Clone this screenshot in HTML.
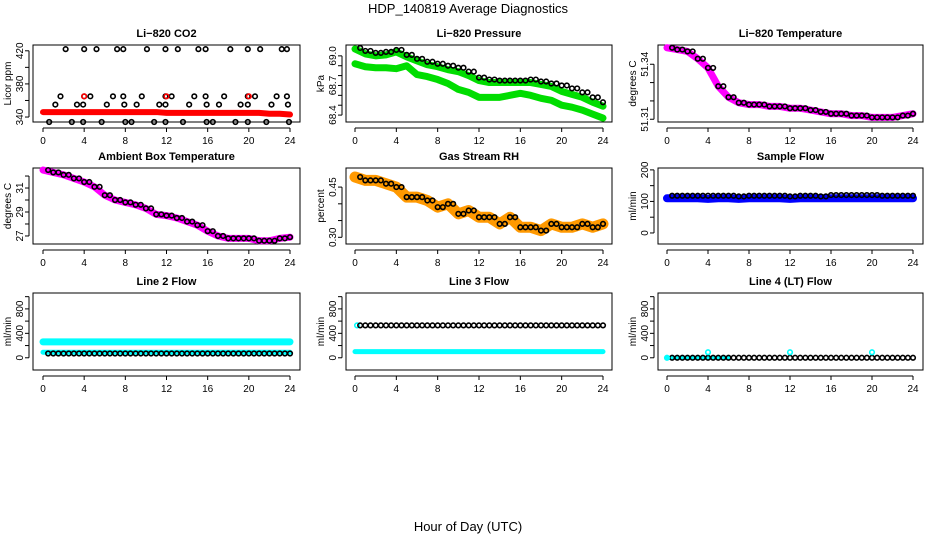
<!DOCTYPE html>
<html><head><meta charset="utf-8">
<style>
html,body{margin:0;padding:0;background:#fff;}
svg{display:block;font-family:"Liberation Sans",sans-serif;}
.t{font-weight:bold;font-size:11px;text-anchor:middle;}
.tk{font-size:10px;text-anchor:middle;}
</style></head>
<body>
<svg id="c" width="936" height="540" viewBox="0 0 936 540">
<text x="468" y="13" font-size="13" text-anchor="middle">HDP_140819  Average Diagnostics</text>
<text x="468" y="531" font-size="13" text-anchor="middle">Hour of Day (UTC)</text>
</svg>
<script>
const hours=[0,1,2,3,4,5,6,7,8,9,10,11,12,13,14,15,16,17,18,19,20,21,22,23,24];
const xTicks=[0,4,8,12,16,20,24];
// CO2
const co2Red=[346,346,346,346,346,346,346,346,346,346,346,346,345,345,345,345,345,345,345,345,345,345,344,344,343];
const co2HiX=[2.2,4,5.2,7.2,7.8,10.1,11.9,13.1,15.1,15.8,18.2,19.9,21.1,23.2,23.7];
const co2MidX=[1.7,4,4.6,6.8,7.8,9.6,11.9,12.5,14.7,15.8,17.6,19.9,20.6,22.7,23.7];
const co2LowX=[1.2,3.3,3.9,6.2,7.9,9.1,11.3,11.9,14.2,15.9,17.1,19.2,19.9,22.2,23.8];
const co2MinX=[0.6,2.8,3.9,5.7,8,8.6,10.8,11.9,13.6,15.9,16.5,18.7,19.9,21.7,23.9];
const co2HiV=422, co2MidV=365, co2LowV=355, co2MinV=334;
// Pressure
const presBlack=[69.08,69.05,69.03,69.04,69.06,69.01,68.97,68.94,68.92,68.9,68.88,68.84,68.78,68.76,68.75,68.75,68.75,68.76,68.74,68.72,68.70,68.67,68.63,68.58,68.53];
const presGreenHi=[69.07,69.02,69.0,69.01,69.04,68.99,68.95,68.91,68.89,68.86,68.84,68.8,68.75,68.73,68.73,68.73,68.73,68.73,68.71,68.69,68.64,68.61,68.58,68.53,68.49];
const presGreenLo=[68.92,68.89,68.88,68.88,68.87,68.9,68.81,68.79,68.76,68.72,68.66,68.63,68.58,68.58,68.58,68.6,68.62,68.6,68.57,68.55,68.5,68.48,68.45,68.41,68.37];
// Li-820 temperature
const tempLi=[51.349,51.348,51.347,51.343,51.338,51.328,51.322,51.319,51.318,51.318,51.317,51.317,51.316,51.316,51.315,51.314,51.313,51.313,51.312,51.312,51.311,51.311,51.311,51.312,51.313];
// Ambient
const ambient=[32.5,32.3,32.1,31.8,31.5,31.1,30.4,30.0,29.8,29.6,29.3,28.8,28.7,28.5,28.2,27.9,27.4,27.0,26.8,26.8,26.8,26.6,26.6,26.8,26.9];
// RH
const rh=[0.48,0.47,0.47,0.46,0.45,0.42,0.42,0.41,0.39,0.40,0.37,0.38,0.36,0.36,0.34,0.36,0.33,0.33,0.32,0.34,0.33,0.33,0.34,0.33,0.34];
// flows
const sampleBlue=[110,110,110,110,108,110,110,108,110,110,110,110,108,110,110,110,110,110,110,110,110,110,110,110,110];
const sampleBlack=[118,118,118,118,118,118,118,116,118,118,118,118,116,118,118,116,120,120,120,120,120,118,118,118,118];
const line2CyanHi=[260,260,260,260,260,260,260,260,260,260,260,260,260,260,260,260,260,260,260,260,260,260,260,260,260];
const line2CyanLo=[90,90,90,90,90,90,90,90,90,90,90,90,90,90,90,90,90,90,90,90,90,90,90,90,90];
const line2Black=[70,70,70,70,70,70,70,70,70,70,70,70,70,70,70,70,70,70,70,70,70,70,70,70,70];
const line3Black=[530,530,530,530,530,530,530,530,530,530,530,530,530,530,530,530,530,530,530,530,530,530,530,530,530];
const line3Cyan=[100,100,100,100,100,100,100,100,100,100,100,100,100,100,100,100,100,100,100,100,100,100,100,100,100];
const line4Black=[0,0,0,0,0,0,0,0,0,0,0,0,0,0,0,0,0,0,0,0,0,0,0,0,0];
const line4SpikeX=[4,12,20];
const line4SpikeV=90;

const NS="http://www.w3.org/2000/svg";
const svg=document.getElementById('c');
function mk(tag,attrs,parent){const e=document.createElementNS(NS,tag);for(const k in attrs)e.setAttribute(k,attrs[k]);(parent||svg).appendChild(e);return e;}
const cols=[{l:33,r:300,x0:43,x1:290},{l:346,r:612,x0:355,x1:603},{l:658,r:923,x0:667,x1:913}];
const rows=[{t:45,b:122},{t:168,b:244},{t:293,b:370}];
function panel(name,title,ylab,ci,ri,ymin,ymax,yticks,ytickFmt){
  const c=cols[ci],r=rows[ri];
  const g=mk('g',{});
  
  
  const xs=h=>c.x0+(c.x1-c.x0)*h/24;
  const ys=v=>r.b-(r.b-r.t)*(v-ymin)/(ymax-ymin);
  const box=mk('rect',{x:c.l,y:r.t,width:c.r-c.l,height:r.b-r.t,fill:'none',stroke:'#000','stroke-width':1},g);
  
  
  const tt=mk('text',{x:(c.l+c.r)/2,y:r.t-8,class:'t'},g);tt.textContent=title;
  
  
  const yl=mk('text',{x:0,y:0,'font-size':10,'text-anchor':'middle',transform:`translate(${c.l-22},${(r.t+r.b)/2}) rotate(-90)`},g);yl.textContent=ylab;
  
  
  mk('line',{x1:xs(0),x2:xs(24),y1:r.b+6,y2:r.b+6,stroke:'#000'},g);
  xTicks.forEach(t=>{mk('line',{x1:xs(t),x2:xs(t),y1:r.b+6,y2:r.b+10,stroke:'#000'},g);
    const tx=mk('text',{x:xs(t),y:r.b+22,class:'tk'},g);tx.textContent=t;
    
    });
  mk('line',{x1:c.l-4,x2:c.l-4,y1:ys(yticks[0]),y2:ys(yticks[yticks.length-1]),stroke:'#000'},g);
  yticks.forEach((t,i)=>{mk('line',{x1:c.l-8,x2:c.l-4,y1:ys(t),y2:ys(t),stroke:'#000'},g);
    if(ytickFmt[i]!==''){const tx=mk('text',{x:0,y:0,class:'tk',transform:`translate(${c.l-10},${ys(t)}) rotate(-90)`},g);tx.textContent=ytickFmt[i];
    
    }});
  return {g,xs,ys};
}
function band(p,xv,yv,color,w,name){
  const pts=xv.map((h,i)=>p.xs(h)+','+p.ys(yv[i])).join(' ');
  const pl=mk('polyline',{points:pts,fill:'none',stroke:color,'stroke-width':w,'stroke-linecap':'round','stroke-linejoin':'round'},p.g);
  
  
}
function circles(p,xv,yv,color,name){
  for(let i=0;i<xv.length;i++){
    const c=mk('circle',{cx:p.xs(xv[i]),cy:p.ys(yv[i]),r:2.3,fill:'none',stroke:color,'stroke-width':1.6},p.g);
    
    
  }
}
function circConst(p,xv,v,color,name){circles(p,xv,xv.map(()=>v),color,name);}
function dense(arr,start){const xs=[],ys=[];for(let i=0;i<arr.length;i++){const h=hours[i];if(h>=start){xs.push(h);ys.push(arr[i]);}if(i<arr.length-1&&h+0.5>=start){xs.push(h+0.5);ys.push(arr[i]);}}return [xs,ys];}

// 1 CO2
let p=panel('co2-panel','Li\u2212820 CO2','Licor ppm',0,0,334,427,[340,360,380,400,420],['340','','380','','420']);
band(p,hours,co2Red,'#f00',6,'co2-red-series');
circConst(p,co2HiX,co2HiV,'#000','co2-point');
circConst(p,co2MidX,co2MidV,'#000','co2-point');
circConst(p,co2LowX,co2LowV,'#000','co2-point');
circConst(p,co2MinX,co2MinV,'#000','co2-point');
circConst(p,[4,12,20],co2MidV,'#f00','co2-red-point');
// 2 Pressure
p=panel('pressure-panel','Li\u2212820 Pressure','kPa',1,0,68.33,69.11,[68.4,68.5,68.6,68.7,68.8,68.9,69.0],['68.4','','','68.7','','','69.0']);
band(p,hours,presGreenHi,'#0d0',7,'pressure-green-upper');
band(p,hours,presGreenLo,'#0d0',7,'pressure-green-lower');
let d=dense(presBlack,0.5);circles(p,d[0],d[1],'#000','pressure-point');
// 3 Li temp
p=panel('li820-temp-panel','Li\u2212820 Temperature','degrees C',2,0,51.3085,51.3505,[51.31,51.32,51.33,51.34],['51.31','','','51.34']);
band(p,hours,tempLi,'#f0f',7,'li820-temp-magenta');
d=dense(tempLi,0.5);circles(p,d[0],d[1],'#000','li820-temp-point');
// 4 ambient
p=panel('ambient-temp-panel','Ambient Box Temperature','degrees C',0,1,26.33,32.67,[27,28,29,30,31,32],['27','','29','','31','']);
band(p,hours,ambient,'#f0f',7,'ambient-magenta');
d=dense(ambient,0.5);circles(p,d[0],d[1],'#000','ambient-point');
// 5 RH
p=panel('gas-rh-panel','Gas Stream RH','percent',1,1,0.28,0.507,[0.30,0.35,0.40,0.45],['0.30','','','0.45']);
band(p,hours,rh,'#f90',11,'rh-orange-band');
d=dense(rh,0.5);circles(p,d[0],d[1],'#000','rh-point');
// 6 sample flow
p=panel('sample-flow-panel','Sample Flow','ml/min',2,1,-35,206,[0,50,100,150,200],['0','','100','','200']);
band(p,hours,sampleBlue,'#00f',8,'sample-flow-blue');
d=dense(sampleBlack,0.5);circles(p,d[0],d[1],'#000','sample-flow-point');
// 7 line2
const lt=[0,200,400,600,800,1000],lf=['0','','400','','800',''];
p=panel('line2-flow-panel','Line 2 Flow','ml/min',0,2,-200,1060,lt,lf);
band(p,hours,line2CyanHi,'cyan',7,'line2-cyan-upper');
band(p,hours,line2CyanLo,'cyan',5,'line2-cyan-lower');
d=dense(line2Black,0.5);circles(p,d[0],d[1],'#000','line2-point');
// 8 line3
p=panel('line3-flow-panel','Line 3 Flow','ml/min',1,2,-200,1060,lt,lf);
band(p,hours,line3Cyan,'cyan',5,'line3-cyan');
circConst(p,[0.2],530,'cyan','line3-cyan-point');
d=dense(line3Black,0.5);circles(p,d[0],d[1],'#000','line3-point');
// 9 line4
p=panel('line4-flow-panel','Line 4 (LT) Flow','ml/min',2,2,-200,1060,lt,lf);
band(p,[0,6],[0,0],'cyan',4,'line4-cyan');
d=dense(line4Black,0.5);circles(p,d[0],d[1],'#000','line4-point');
circConst(p,[0],0,'cyan','line4-cyan-point');
circConst(p,line4SpikeX,line4SpikeV,'cyan','line4-spike');
</script>
</body></html>
